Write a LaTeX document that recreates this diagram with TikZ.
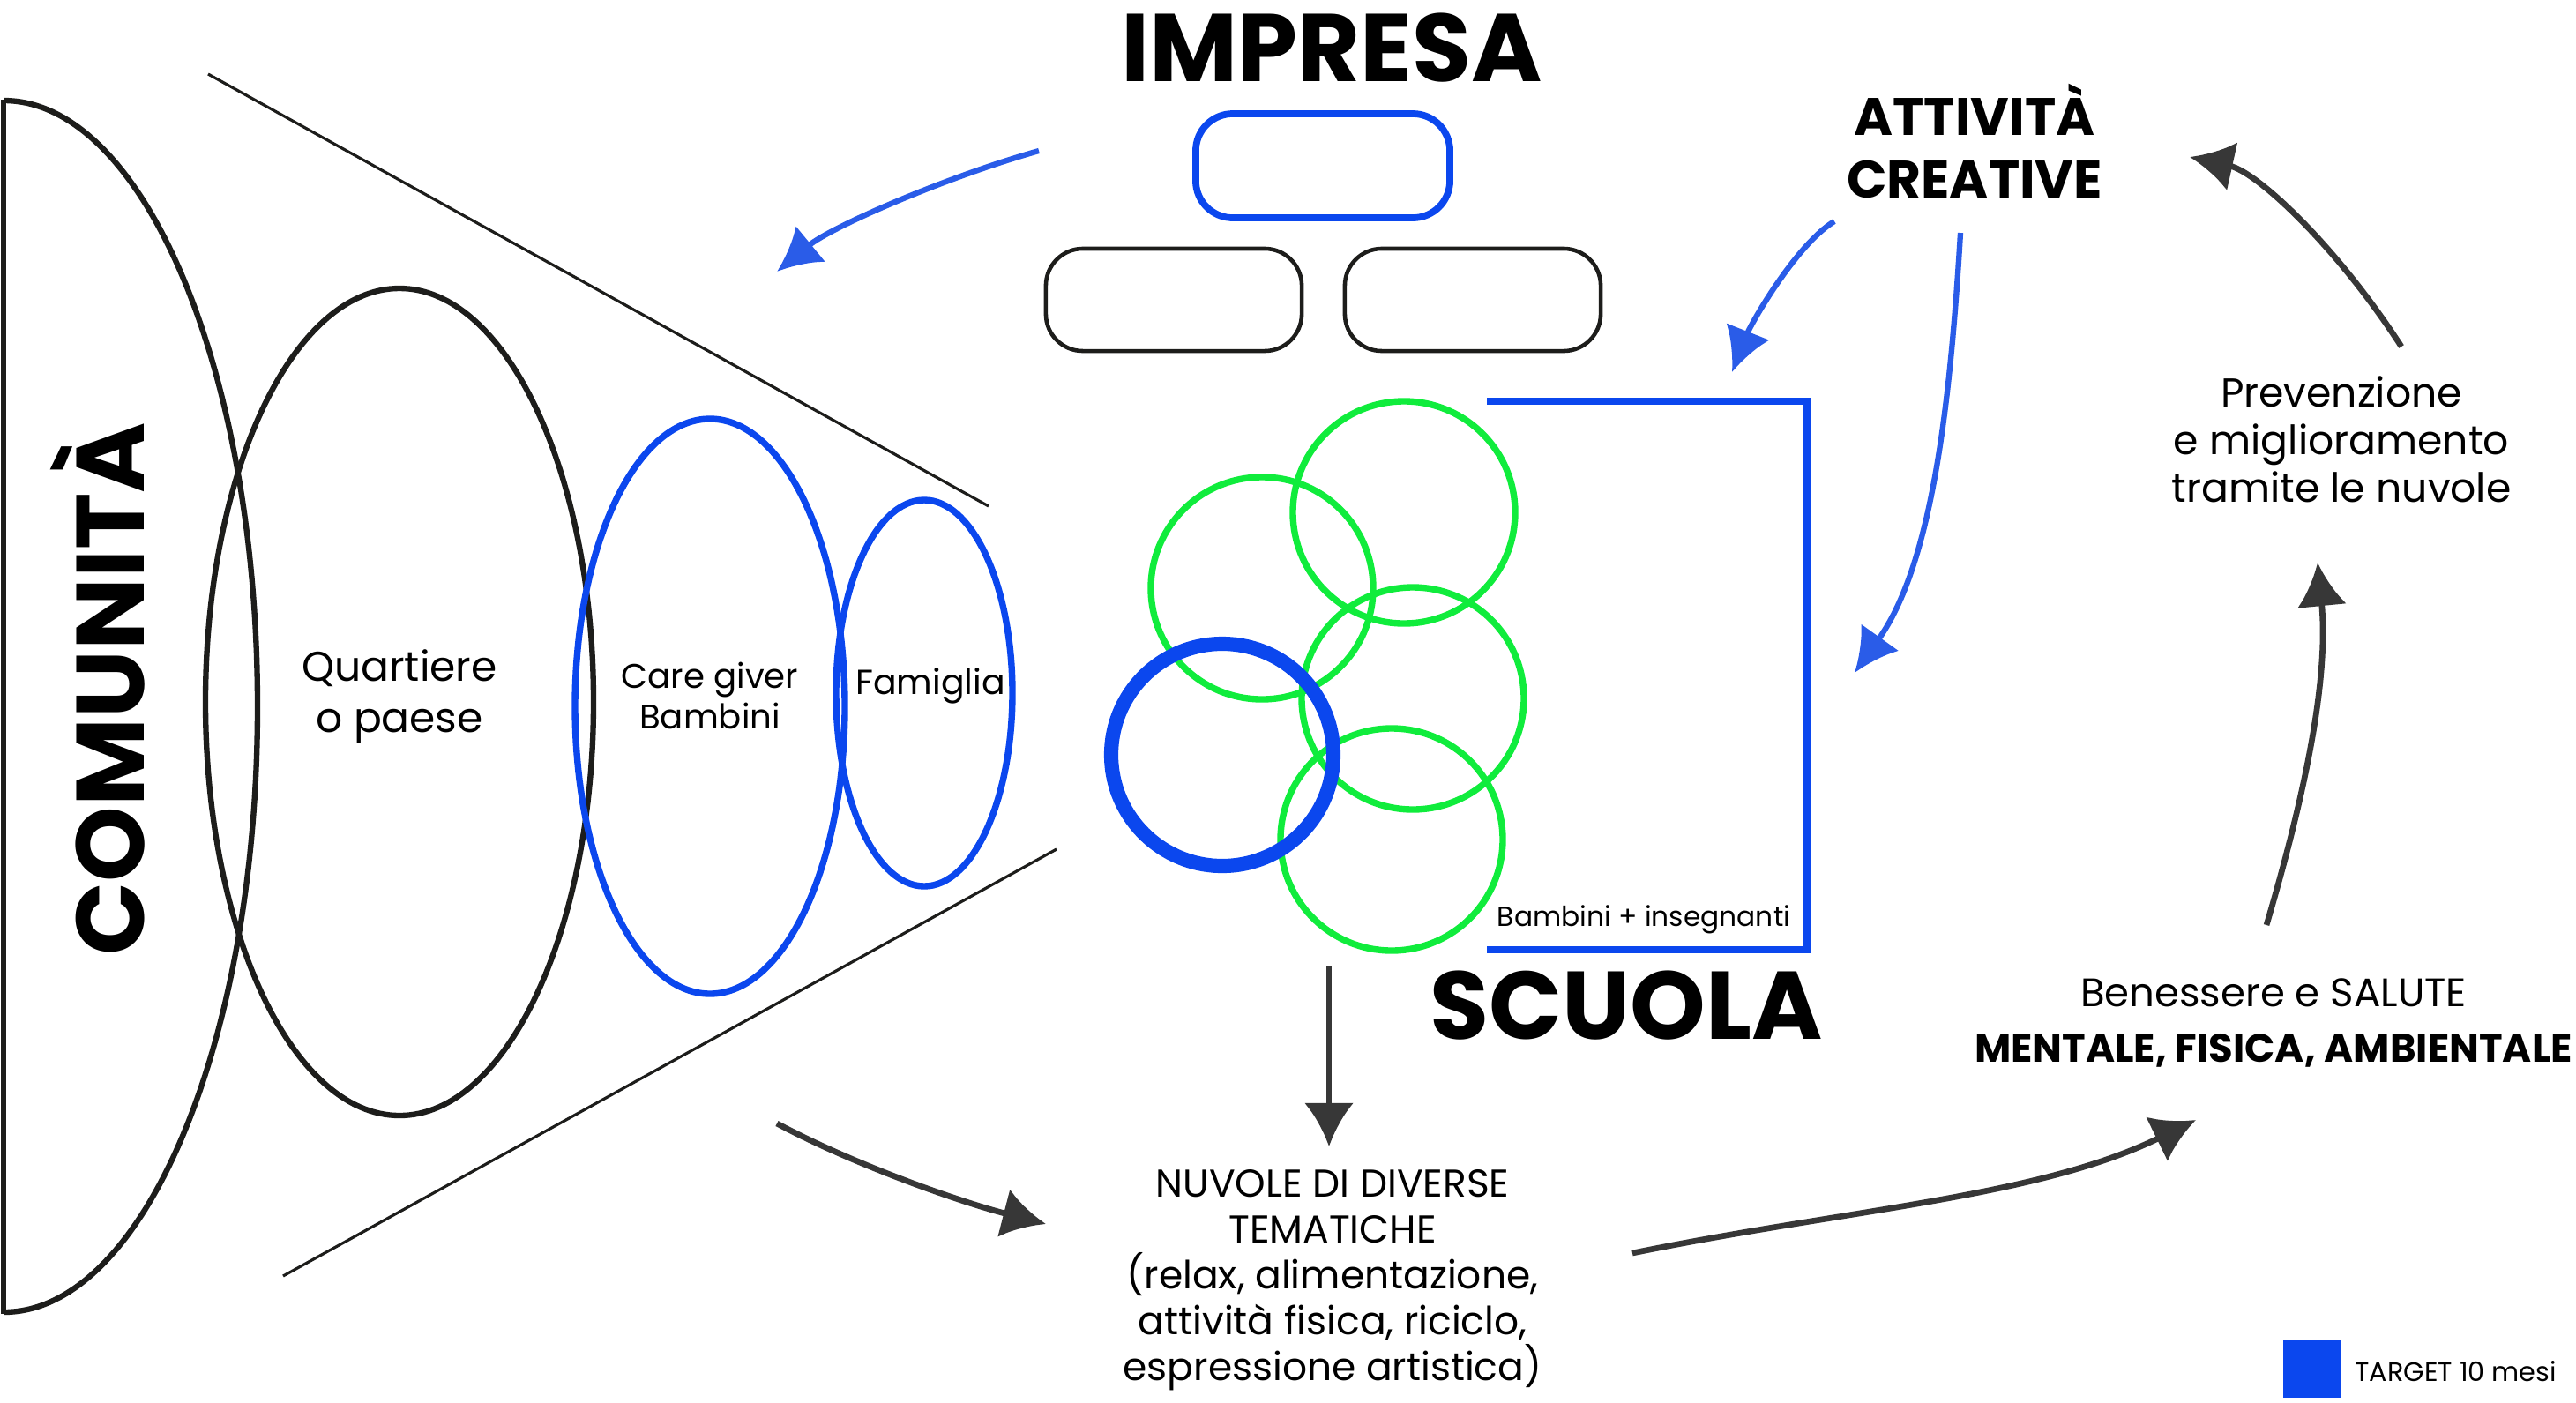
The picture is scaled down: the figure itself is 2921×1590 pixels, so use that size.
\documentclass[tikz,border=0pt]{standalone}
\usepackage{fontspec}
\setmainfont{Poppins}
\usetikzlibrary{arrows.meta}
\definecolor{bluimp}{HTML}{0B47EE}
\definecolor{blufreccia}{HTML}{2A5CE8}
\definecolor{verdenuv}{HTML}{10EC3C}
\definecolor{grigiofr}{HTML}{373737}
\definecolor{nerolinea}{HTML}{1D1D1B}
\tikzset{
  ring/.style={draw=nerolinea, line width=1.8pt},
  bluering/.style={draw=bluimp, line width=2.1pt},
  nuvola/.style={draw=verdenuv, line width=2.1pt},
  slot/.style={draw=nerolinea, line width=1.3pt, rounded corners=0.42cm, minimum width=2.9cm, minimum height=1.16cm},
  bluarrow/.style={draw=blufreccia, line width=1.8pt, -{Latex[length=14pt,width=15pt]}},
  grayarrow/.style={draw=grigiofr, line width=1.9pt, -{Latex[length=14pt,width=16pt]}},
  bigtitle/.style={font=\bfseries\fontsize{31}{36}\selectfont},
  note/.style={align=center, font=\fontsize{13}{15}\selectfont},
}
\begin{document}
\begin{tikzpicture}[x=0.01cm, y=-0.01cm]
\useasboundingbox (0,0) rectangle (2921,1590);
% comunita
\draw[nerolinea, line width=1.8pt] (4,113) -- (4,1490);
\begin{scope}
\clip (4,0) rectangle (400,1590);
\draw[nerolinea, line width=1.8pt] (4,801) ellipse [x radius=288, y radius=687];
\end{scope}
\node[bigtitle, rotate=90, anchor=base] (comunita) at (163,781) {COMUNITÀ};
% cono
\draw[nerolinea, line width=0.9pt] (236,84) -- (1121,574);
\draw[nerolinea, line width=0.9pt] (321,1447) -- (1198,963);
% cerchi
\draw[ring] (453,796) ellipse [x radius=220, y radius=469];
\draw[bluering] (805,801) ellipse [x radius=153, y radius=326];
\draw[bluering] (1048,786) ellipse [x radius=100, y radius=219];
\node[note, font=\fontsize{13.4}{16.5}\selectfont] (quartiere) at (453,790) {Quartiere\\o paese};
\node[note, font=\fontsize{11}{13.2}\selectfont] (caregiver) at (805,789) {Care giver\\Bambini};
\node[note, font=\fontsize{11.2}{13}\selectfont] (famiglia) at (1055,778) {Famiglia};
% impresa
\node[bigtitle] (impresa) at (1510,54) {IMPRESA};
\node[slot, draw=bluimp, line width=2.2pt, minimum width=2.88cm, minimum height=1.18cm] (boxtop) at (1500,188) {};
\node[slot] (boxleft) at (1331,340) {};
\node[slot] (boxright) at (1670,340) {};
% nuvole
\draw[nuvola] (1592,581) circle [radius=126];
\draw[nuvola] (1431,667) circle [radius=126];
\draw[nuvola] (1602,792) circle [radius=126];
\draw[nuvola] (1578,952) circle [radius=126];
\draw[bluimp, line width=4.6pt] (1386,856) circle [radius=126];
% scuola
\draw[bluimp, line width=2.5pt] (1686,455) -- (2049,455) -- (2049,1077) -- (1686,1077);
\node[font=\fontsize{8.9}{11}\selectfont, anchor=base] (bambini) at (1864,1050) {Bambini + insegnanti};
\node[bigtitle] (scuola) at (1844,1140) {SCUOLA};
% testi a destra
\node[align=center, font=\bfseries\fontsize{17}{20}\selectfont] (attivita) at (2239,160) {ATTIVITÀ\\CREATIVE};
\node[note, font=\fontsize{13}{15.4}\selectfont] (prevenzione) at (2655,498) {Prevenzione\\e miglioramento\\tramite le nuvole};
\node[note, font=\fontsize{12.8}{18}\selectfont] (benessere) at (2578,1160) {Benessere e SALUTE\\\textbf{MENTALE, FISICA, AMBIENTALE}};
\node[note, font=\fontsize{12.5}{14.8}\selectfont] (nuvole) at (1511,1452) {NUVOLE DI DIVERSE\\TEMATICHE\\(relax, alimentazione,\\attività fisica, riciclo,\\espressione artistica)};
% legenda
\node[fill=bluimp, minimum width=0.65cm, minimum height=0.66cm, inner sep=0pt] (target) at (2621,1552) {};
\node[anchor=west, font=\fontsize{8.6}{10}\selectfont] (targettext) at (2658,1555) {TARGET 10 mesi};
% frecce
\coordinate (imp-a) at (1178,171);
\coordinate (cono-a) at (881,308);
\coordinate (att-a) at (2080,251);
\coordinate (att-b) at (2223,264);
\coordinate (imp-b) at (1964,422);
\coordinate (scu-a) at (2103,763);
\coordinate (cono-b) at (881,1274);
\coordinate (nuv-a) at (1186,1388);
\coordinate (scu-b) at (1507,1096);
\coordinate (nuv-b) at (1507,1300);
\coordinate (nuv-c) at (1851,1421);
\coordinate (ben-a) at (2490,1270);
\coordinate (ben-b) at (2570,1049);
\coordinate (pre-a) at (2628,638);
\coordinate (pre-b) at (2723,393);
\coordinate (att-c) at (2483,178);
\draw[bluarrow] (imp-a) .. controls (1072,201) and (943,257) .. (cono-a);
\draw[bluarrow] (att-a) .. controls (2037,277) and (1986,366) .. (imp-b);
\draw[bluarrow] (att-b) .. controls (2211,464) and (2190,641) .. (scu-a);
\draw[grayarrow] (cono-b) .. controls (969,1321) and (1089,1363) .. (nuv-a);
\draw[grayarrow] (scu-b) -- (nuv-b);
\draw[grayarrow] (nuv-c) .. controls (2096,1371) and (2310,1358) .. (ben-a);
\draw[grayarrow] (ben-b) .. controls (2620,880) and (2640,760) .. (pre-a);
\draw[grayarrow] (pre-b) .. controls (2650,280) and (2560,195) .. (att-c);
\end{tikzpicture}
\end{document}
